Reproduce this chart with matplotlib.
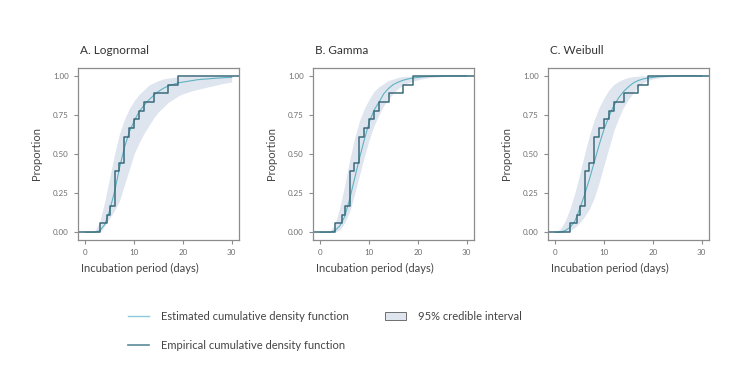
import numpy as np
import matplotlib.pyplot as plt
from matplotlib.lines import Line2D
from matplotlib.patches import Patch

plt.rcParams['font.family'] = ['Lato', 'DejaVu Sans']

# empirical data: onset day and number of cases (n = 18)
onset_days = [3, 4.5, 5, 6, 7, 8, 9, 10, 11, 12, 14, 17, 19]
onset_counts = [1, 1, 1, 4, 1, 3, 1, 1, 1, 1, 1, 1, 1]

days = list(range(0, 31))

# fitted CDFs and 95% credible intervals
lognormal_est = [0, 0, 0, 0.01, 0.05, 0.14, 0.26, 0.41, 0.54, 0.64, 0.71, 0.77, 0.81, 0.845, 0.875,
                 0.90, 0.92, 0.935, 0.945, 0.955, 0.96, 0.965, 0.97, 0.975, 0.978, 0.98, 0.983,
                 0.985, 0.987, 0.989, 0.99]
lognormal_lo = [0, 0, 0, 0, 0.04, 0.09, 0.14, 0.2, 0.3, 0.4, 0.5, 0.57, 0.63, 0.68, 0.73, 0.77,
                0.8, 0.83, 0.85, 0.87, 0.885, 0.895, 0.905, 0.913, 0.92, 0.928, 0.935, 0.942,
                0.95, 0.955, 0.96]
lognormal_hi = [0, 0, 0.01, 0.07, 0.2, 0.35, 0.5, 0.63, 0.72, 0.79, 0.84, 0.88, 0.91, 0.94, 0.955,
                0.97, 0.98, 0.985, 0.99, 0.993, 0.995, 0.996, 0.997, 0.998, 0.998, 0.999, 0.999,
                0.999, 0.999, 0.999, 0.999]

gamma_est = [0, 0, 0, 0.01, 0.04, 0.1, 0.21, 0.34, 0.47, 0.59, 0.7, 0.78, 0.83, 0.885, 0.92,
             0.945, 0.96, 0.972, 0.98, 0.986, 0.99, 0.993, 0.995, 0.997, 0.998, 0.999, 0.999,
             1, 1, 1, 1]
gamma_lo = [0, 0, 0, 0, 0.015, 0.06, 0.13, 0.24, 0.36, 0.48, 0.59, 0.68, 0.75, 0.81, 0.85, 0.89,
            0.92, 0.94, 0.955, 0.965, 0.975, 0.982, 0.987, 0.99, 0.993, 0.995, 0.996, 0.997,
            0.998, 0.999, 0.999]
gamma_hi = [0, 0, 0.01, 0.05, 0.16, 0.3, 0.46, 0.6, 0.71, 0.79, 0.85, 0.9, 0.93, 0.95, 0.97,
            0.98, 0.99, 0.995, 0.997, 0.998, 0.999, 1, 1, 1, 1, 1, 1, 1, 1, 1, 1]

weibull_est = [0, 0, 0.01, 0.03, 0.07, 0.15, 0.24, 0.34, 0.45, 0.56, 0.66, 0.74, 0.81, 0.86, 0.9,
               0.93, 0.955, 0.97, 0.98, 0.986, 0.99, 0.994, 0.997, 0.998, 0.999, 1, 1, 1, 1, 1, 1]
weibull_lo = [0, 0, 0, 0.01, 0.03, 0.06, 0.1, 0.15, 0.22, 0.32, 0.43, 0.54, 0.65, 0.73, 0.8,
              0.85, 0.89, 0.93, 0.955, 0.97, 0.98, 0.986, 0.99, 0.994, 0.997, 0.998, 1, 1, 1, 1, 1]
weibull_hi = [0, 0.02, 0.07, 0.15, 0.25, 0.37, 0.5, 0.62, 0.72, 0.8, 0.86, 0.91, 0.945, 0.965,
              0.98, 0.99, 0.995, 0.998, 1, 1, 1, 1, 1, 1, 1, 1, 1, 1, 1, 1, 1]

panels = [
    ('A. Lognormal', lognormal_est, lognormal_lo, lognormal_hi),
    ('B. Gamma', gamma_est, gamma_lo, gamma_hi),
    ('C. Weibull', weibull_est, weibull_lo, weibull_hi),
]

band_col = '#dfe5ef'
est_col = '#5fb2c0'
emp_col = '#3b6b7b'
frame_col = '#8c8c8c'

fig = plt.figure(figsize=(7.33, 3.88), dpi=100)

lefts = [78, 313, 548]
for (title, est, lo, hi), left in zip(panels, lefts):
    ax = fig.add_axes([left / 733, 1 - 240 / 388, 161 / 733, 172 / 388])
    ax.set_xlim(-1.5, 31.5)
    ax.set_ylim(-0.05, 1.05)

    ax.fill_between(days, lo, hi, color=band_col, lw=0)
    ax.plot(days, est, color=est_col, lw=0.8)

    # empirical cdf, padded to the panel edges like stat_ecdf
    cum = np.cumsum(onset_counts) / np.sum(onset_counts)
    x0, x1 = ax.get_xlim()
    xs = [x0] + onset_days + [x1]
    ys = [0] + list(cum) + [1]
    ax.step(xs, ys, where='post', color=emp_col, lw=1.1)

    for s in ax.spines.values():
        s.set_color(frame_col)
        s.set_linewidth(0.9)
    ax.set_xticks([0, 10, 20, 30])
    ax.set_yticks([0, 0.25, 0.5, 0.75, 1])
    ax.set_yticklabels(['0.00', '0.25', '0.50', '0.75', '1.00'])
    ax.tick_params(colors=frame_col, labelcolor='#6e6e6e', labelsize=5.8, length=3, width=0.8)

    ax.set_ylabel('Proportion', fontsize=8, color='#444444', labelpad=8)
    ax.text(0.01, 1.1, title, transform=ax.transAxes, fontsize=8.5, color='#333333',
            ha='left', va='center')
    fig.text((left + 3) / 733, 1 - 268 / 388, 'Incubation period (days)', fontsize=8,
             color='#444444', ha='left', va='center')

handles = [
    Line2D([], [], color='#8ccbdc', lw=1),
    Line2D([], [], color='#5a8a9a', lw=1.2),
    Patch(facecolor=band_col, edgecolor='#6e6e6e', lw=0.7),
]
labels = ['Estimated cumulative density function', 'Empirical cumulative density function',
          '95% credible interval']
fig.legend(handles, labels, ncol=2, frameon=False, fontsize=8, labelcolor='#444444',
           loc='upper left', bbox_to_anchor=(118 / 733, 1 - 301 / 388),
           handlelength=1.9, handletextpad=1.1, columnspacing=3.2, labelspacing=1.6,
           handleheight=0.8)

fig.savefig('out.png', dpi=100)
